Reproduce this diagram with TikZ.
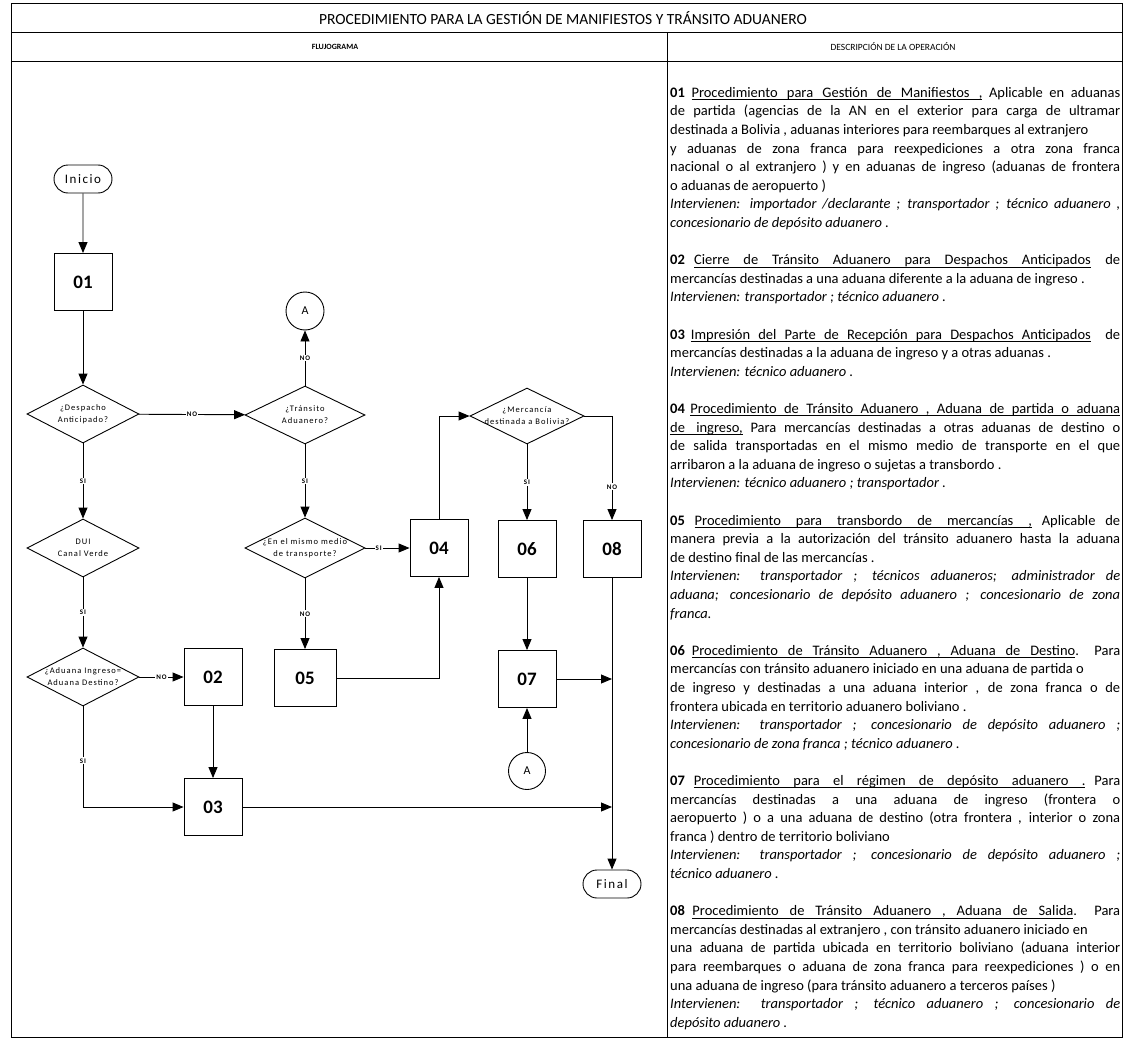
\documentclass[tikz,border=0pt]{standalone}
\usepackage{fontspec}
\setmainfont{Carlito}
\newfontfamily\spacedfont{Carlito}[LetterSpace=12]
\usetikzlibrary{positioning,arrows.meta,shapes.geometric,shapes.misc}
\setlength{\parindent}{0pt}
% underlined words, stretchable underlined spaces
\makeatletter
\def\ulw#1{\setbox0\hbox{#1}\rlap{\rule[-2.6pt]{\wd0}{0.6pt}}\box0\relax}
\def\ulsp{\leaders\hrule height -2pt depth 2.6pt\hskip 0.23em plus 0.2em minus 0.06em}
\def\uln#1{\uln@a#1 \@nil}
\def\uln@a#1 #2\@nil{\ulw{#1}\ifx\relax#2\relax\else\ulsp\uln@a#2\@nil\fi}
\makeatother
\tikzset{
  frame/.style={line width=1pt},
  proc/.style={draw,line width=0.9pt,minimum width=58pt,minimum height=57pt,inner sep=0pt,font=\fontsize{19}{19}\selectfont\bfseries},
  dec/.style={draw,diamond,aspect=2,line width=0.9pt,minimum width=112pt,minimum height=58pt,inner sep=-3pt,align=center,font=\spacedfont\fontsize{8.5}{12}\selectfont},
  term/.style={draw,rounded rectangle,line width=0.9pt,minimum width=58pt,minimum height=28pt,inner sep=0pt,font=\spacedfont\fontsize{13}{13}\selectfont},
  conn/.style={draw,circle,line width=0.9pt,minimum size=38pt,inner sep=0pt,font=\fontsize{12}{12}\selectfont},
  flow/.style={line width=0.9pt,-{Triangle[length=11pt,width=9pt]}},
  lab/.style={fill=white,inner sep=1pt,font=\spacedfont\fontsize{7}{7}\selectfont\bfseries},
  desc/.style={anchor=north west,inner sep=0pt,text width=450pt,align=justify,font=\fontsize{14.5}{18.6}\selectfont},
  head/.style={font=\fontsize{9.5}{9.5}\selectfont}
}
\begin{document}
\begin{tikzpicture}[x=1pt,y=-1pt]
  \useasboundingbox (0,0) rectangle (1125,1041);
  % table frame
  \draw[frame] (11,4) rectangle (1122,1037);
  \draw[frame] (11,33) -- (1122,33);
  \draw[frame] (11,62) -- (1122,62);
  \draw[frame] (667,33) -- (667,1037);
  \node[font=\fontsize{15.5}{15.5}\selectfont] (title) at (563,18) {PROCEDIMIENTO PARA LA GESTIÓN DE MANIFIESTOS Y TRÁNSITO ADUANERO};
  \node[head,font=\fontsize{8}{8}\selectfont\bfseries] (hflu) at (335,47) {FLUJOGRAMA};
  \node[head] (hdesc) at (893,47) {DESCRIPCIÓN DE LA OPERACIÓN};

  % flujograma
  \node[term] (ini) at (83,179) {Inicio};
  \node[proc] (p01) at (83,282) {01};
  \node[dec] (ddesp) at (83,414) {¿Despacho\\Anticipado?};
  \node[dec] (ddui) at (83,548) {DUI\\Canal Verde};
  \node[dec] (dadu) at (83,677) {¿Aduana Ingreso=\\Aduana Destino?};
  \node[proc] (p02) at (213,677) {02};
  \node[proc] (p03) at (213,807) {03};
  \node[conn] (ca1) at (305,311) {A};
  \node[dec,minimum width=120pt] (dtran) at (305,415) {¿Tránsito\\Aduanero?};
  \node[dec,minimum width=120pt,minimum height=60pt,inner sep=-4pt] (dmed) at (305,548) {¿En el mismo medio\\de transporte?};
  \node[proc,minimum width=62pt] (p05) at (305,678) {05};
  \node[proc] (p04) at (439,548) {04};
  \node[dec,minimum width=114pt,minimum height=56pt,inner sep=-4pt] (dmer) at (527,416) {¿Mercancía\\destinada a Bolivia?};
  \node[proc] (p06) at (527,549) {06};
  \node[proc] (p07) at (527,679) {07};
  \node[conn,minimum size=37pt] (ca2) at (527,771) {A};
  \node[proc] (p08) at (612,549) {08};
  \node[term] (fin) at (612,884) {Final};
  \coordinate (j07) at (612,679);
  \coordinate (j03) at (612,807);

  \draw[flow] (ini) -- (p01);
  \draw[flow] (p01) -- (ddesp);
  \draw[flow] (ddesp) -- node[lab] {NO} (dtran);
  \draw[flow] (ddesp) -- node[lab] {SI} (ddui);
  \draw[flow] (ddui) -- node[lab] {SI} (dadu);
  \draw[flow] (dadu) -- node[lab] {NO} (p02);
  \draw[flow] (dadu.south) |- node[lab,pos=0.27] {SI} (p03.west);
  \draw[flow] (p02) -- (p03);
  \draw[flow] (p03) -- (j03);
  \draw[flow] (dtran) -- node[lab] {NO} (ca1);
  \draw[flow] (dtran) -- node[lab] {SI} (dmed);
  \draw[flow] (dmed) -- node[lab,pos=0.3] {SI} (p04);
  \draw[flow] (dmed) -- node[lab] {NO} (p05);
  \draw[flow] (p05.east) -| (p04.south);
  \draw[flow] (p04.north) |- (dmer.west);
  \draw[flow] (dmer) -- node[lab] {SI} (p06);
  \draw[flow] (dmer.east) -| node[lab,pos=0.84] {NO} (p08.north);
  \draw[flow] (p06) -- (p07);
  \draw[flow] (ca2) -- (p07);
  \draw[flow] (p07) -- (j07);
  \draw[flow] (p08) -- (fin);

  % descripcion de la operacion
  \node[desc] (d01) at (670,84) {\strut\textbf{01} \uln{Procedimiento para Gestión de Manifiestos ,} Aplicable en aduanas\linebreak
    de partida (agencias de la AN en el exterior para carga de ultramar\linebreak
    destinada a Bolivia , aduanas interiores para reembarques al extranjero\newline
    y aduanas de zona franca para reexpediciones a otra zona franca\linebreak
    nacional o al extranjero ) y en aduanas de ingreso (aduanas de frontera\linebreak
    o aduanas de aeropuerto )\newline
    \textit{Intervienen: importador /declarante ; transportador ; técnico aduanero ,\linebreak
    concesionario de depósito aduanero .}};
  \node[desc] (d02) at (670,251.4) {\strut\textbf{02} \uln{Cierre de Tránsito Aduanero para Despachos Anticipados}\quad de\linebreak
    mercancías destinadas a una aduana diferente a la aduana de ingreso .\newline
    \textit{Intervienen: transportador ; técnico aduanero .}};
  \node[desc] (d03) at (670,325.8) {\strut\textbf{03} \uln{Impresión del Parte de Recepción para Despachos Anticipados}\quad de\linebreak
    mercancías destinadas a la aduana de ingreso y a otras aduanas .\newline
    \textit{Intervienen: técnico aduanero .}};
  \node[desc] (d04) at (670,400.2) {\strut\textbf{04} \uln{Procedimiento de Tránsito Aduanero , Aduana de partida o aduana}\linebreak
    \uln{de ingreso,} Para mercancías destinadas a otras aduanas de destino o\linebreak
    de salida transportadas en el mismo medio de transporte en el que\linebreak
    arribaron a la aduana de ingreso o sujetas a transbordo .\newline
    \textit{Intervienen: técnico aduanero ; transportador .}};
  \node[desc] (d05) at (670,511.8) {\strut\textbf{05} \uln{Procedimiento para transbordo de mercancías ,} Aplicable de\linebreak
    manera previa a la autorización del tránsito aduanero hasta la aduana\linebreak
    de destino final de las mercancías .\newline
    \textit{Intervienen: transportador ; técnicos aduaneros; administrador de\linebreak
    aduana; concesionario de depósito aduanero ; concesionario de zona\linebreak
    franca.}};
  \node[desc] (d06) at (670,642) {\strut\textbf{06} \uln{Procedimiento de Tránsito Aduanero , Aduana de Destino}. Para\linebreak
    mercancías con tránsito aduanero iniciado en una aduana de partida o\newline
    de ingreso y destinadas a una aduana interior , de zona franca o de\linebreak
    frontera ubicada en territorio aduanero boliviano .\newline
    \textit{Intervienen: transportador ; concesionario de depósito aduanero ;\linebreak
    concesionario de zona franca ; técnico aduanero .}};
  \node[desc] (d07) at (670,772.2) {\strut\textbf{07} \uln{Procedimiento para el régimen de depósito aduanero .} Para\linebreak
    mercancías destinadas a una aduana de ingreso (frontera o\linebreak
    aeropuerto ) o a una aduana de destino (otra frontera , interior o zona\linebreak
    franca ) dentro de territorio boliviano\newline
    \textit{Intervienen: transportador ; concesionario de depósito aduanero ;\linebreak
    técnico aduanero .}};
  \node[desc] (d08) at (670,902.4) {\strut\textbf{08} \uln{Procedimiento de Tránsito Aduanero , Aduana de Salida}. Para\linebreak
    mercancías destinadas al extranjero , con tránsito aduanero iniciado en\newline
    una aduana de partida ubicada en territorio boliviano (aduana interior\linebreak
    para reembarques o aduana de zona franca para reexpediciones ) o en\linebreak
    una aduana de ingreso (para tránsito aduanero a terceros países )\newline
    \textit{Intervienen: transportador ; técnico aduanero ; concesionario de\linebreak
    depósito aduanero .}};
\end{tikzpicture}
\end{document}
